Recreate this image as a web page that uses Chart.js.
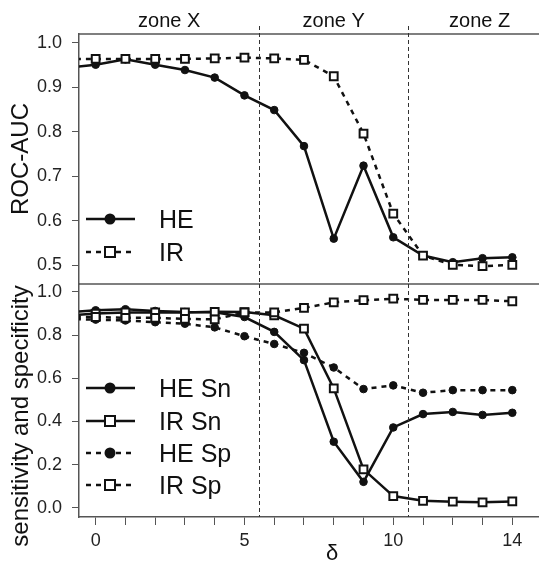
<!DOCTYPE html>
<html>
<head>
<meta charset="utf-8">
<script src="https://cdn.jsdelivr.net/npm/chart.js@4"></script>
<style>
  html, body { margin: 0; padding: 0; background: #fff; overflow: hidden; }
  #wrap { position: relative; width: 539px; height: 562px; overflow: hidden; }
  canvas { position: absolute; left: 0; top: 0; }
</style>
</head>
<body>
<div id="wrap">
  <canvas id="aucChart" width="560" height="562"></canvas>
  <canvas id="snspChart" width="560" height="562"></canvas>
</div>
<script>
// δ values (the -1 point sits just outside the left edge, lines run into the border)
const deltas = [-1, 0, 1, 2, 3, 4, 5, 6, 7, 8, 9, 10, 11, 12, 13, 14];

// top panel: ROC-AUC
const heAuc = [0.944, 0.951, 0.963, 0.951, 0.939, 0.922, 0.882, 0.849, 0.768, 0.560, 0.724, 0.563, 0.522, 0.507, 0.516, 0.518];
const irAuc = [0.964, 0.964, 0.964, 0.964, 0.964, 0.965, 0.967, 0.965, 0.962, 0.925, 0.796, 0.616, 0.522, 0.501, 0.498, 0.501];

// bottom panel: sensitivity / specificity
const heSn = [0.905, 0.915, 0.920, 0.912, 0.907, 0.906, 0.884, 0.815, 0.684, 0.306, 0.120, 0.372, 0.434, 0.444, 0.430, 0.440];
const irSn = [0.890, 0.900, 0.905, 0.905, 0.905, 0.908, 0.907, 0.892, 0.830, 0.553, 0.178, 0.054, 0.032, 0.028, 0.025, 0.029];
const heSp = [0.875, 0.872, 0.868, 0.860, 0.853, 0.836, 0.795, 0.759, 0.718, 0.650, 0.550, 0.567, 0.533, 0.545, 0.545, 0.545];
const irSp = [0.885, 0.884, 0.880, 0.880, 0.875, 0.873, 0.905, 0.905, 0.926, 0.952, 0.962, 0.969, 0.963, 0.963, 0.963, 0.957];

const aucTicks = [0.5, 0.6, 0.7, 0.8, 0.9, 1.0];
const snspTicks = [0.0, 0.2, 0.4, 0.6, 0.8, 1.0];
const deltaTicks = [0, 1, 2, 3, 4, 5, 6, 7, 8, 9, 10, 11, 12, 13, 14];
const deltaLabels = [0, 5, 10, 14];

const zoneNames = ['zone X', 'zone Y', 'zone Z'];
const zoneCenters = [2.47, 8, 12.9];
const zoneBounds = [5.5, 10.5];

const FONT = '"Liberation Sans", Arial, Helvetica, sans-serif';
const INK = '#111';
const FRAME = '#555';

const toPts = ys => deltas.map((x, i) => ({ x, y: ys[i] }));

function series(label, ys, solid, marker) {
    const square = marker === 'square';
    return {
        label,
        data: toPts(ys),
        borderColor: INK,
        borderWidth: 2.5,
        borderDash: solid ? [] : [5, 5],
        pointStyle: square ? 'rect' : 'circle',
        pointRadius: square ? 5.5 : 3.8,
        pointBorderWidth: square ? 2 : 1,
        pointBackgroundColor: square ? '#fff' : INK,
        pointBorderColor: INK,
        tension: 0
    };
}

function xScale(show) {
    const scale = {
        type: 'linear',
        min: -0.56,
        max: 15.3,
        display: show,
        afterBuildTicks: s => { s.ticks = deltaTicks.map(v => ({ value: v })); },
        ticks: {
            autoSkip: false,
            maxRotation: 0,
            padding: 5,
            color: '#222',
            font: { family: FONT, size: 18 },
            callback: v => deltaLabels.includes(v) ? String(v) : ''
        },
        grid: { drawOnChartArea: false, tickLength: 8, color: FRAME, lineWidth: 1 },
        border: { color: FRAME, width: 1.5 }
    };
    if (show) scale.afterFit = s => { s.height = 45; };
    return scale;
}

function yScale(min, max, tickList) {
    return {
        min, max,
        afterBuildTicks: s => { s.ticks = tickList.map(v => ({ value: v })); },
        afterFit: s => { s.width = 79; },
        ticks: {
            padding: 10,
            color: '#222',
            font: { family: FONT, size: 18 },
            callback: v => Number(v).toFixed(1)
        },
        grid: { drawOnChartArea: false, tickLength: 7, color: FRAME, lineWidth: 1 },
        border: { color: FRAME, width: 1.5 }
    };
}

function drawLegend(ctx, rows) {
    ctx.save();
    rows.forEach(r => {
        ctx.strokeStyle = INK;
        ctx.lineWidth = 2.5;
        ctx.setLineDash(r.solid ? [] : [5, 5]);
        ctx.beginPath();
        ctx.moveTo(86, r.y);
        ctx.lineTo(135, r.y);
        ctx.stroke();
        ctx.setLineDash([]);
        if (r.marker === 'square') {
            ctx.fillStyle = '#fff';
            ctx.lineWidth = 2;
            ctx.fillRect(105, r.y - 5, 10, 10);
            ctx.strokeRect(105, r.y - 5, 10, 10);
        } else {
            ctx.fillStyle = INK;
            ctx.beginPath();
            ctx.arc(110, r.y, 5.5, 0, Math.PI * 2);
            ctx.fill();
        }
        ctx.fillStyle = INK;
        ctx.font = `25px ${FONT}`;
        ctx.textAlign = 'left';
        ctx.textBaseline = 'alphabetic';
        ctx.fillText(r.label, 159, r.y + 9);
    });
    ctx.restore();
}

function drawZoneLines(chart, yTop, yBottom) {
    const ctx = chart.ctx;
    const xs = chart.scales.x;
    ctx.save();
    ctx.strokeStyle = '#333';
    ctx.lineWidth = 1;
    ctx.setLineDash([4, 3]);
    zoneBounds.forEach(b => {
        const px = Math.round(xs.getPixelForValue(b)) + 0.5;
        ctx.beginPath();
        ctx.moveTo(px, yTop);
        ctx.lineTo(px, yBottom);
        ctx.stroke();
    });
    ctx.restore();
}

function drawYTitle(ctx, text, x, y) {
    ctx.save();
    ctx.translate(x, y);
    ctx.rotate(-Math.PI / 2);
    ctx.fillStyle = INK;
    ctx.font = `24px ${FONT}`;
    ctx.textAlign = 'center';
    ctx.textBaseline = 'alphabetic';
    ctx.fillText(text, 0, 0);
    ctx.restore();
}

const aucDecor = {
    id: 'aucDecor',
    afterDatasetsDraw(chart) {
        const { ctx, chartArea } = chart;
        ctx.save();
        ctx.strokeStyle = FRAME;
        ctx.lineWidth = 1.5;
        ctx.beginPath();
        ctx.moveTo(chartArea.left, chartArea.top);
        ctx.lineTo(chartArea.right, chartArea.top);
        ctx.stroke();
        ctx.fillStyle = INK;
        ctx.font = `20px ${FONT}`;
        ctx.textAlign = 'center';
        ctx.textBaseline = 'alphabetic';
        zoneNames.forEach((z, i) => {
            ctx.fillText(z, chart.scales.x.getPixelForValue(zoneCenters[i]), 27);
        });
        ctx.restore();
        drawZoneLines(chart, 26, chartArea.bottom);
        drawYTitle(ctx, 'ROC-AUC', 28, (chartArea.top + chartArea.bottom) / 2);
        drawLegend(ctx, [
            { label: 'HE', y: 219, solid: true, marker: 'circle' },
            { label: 'IR', y: 252, solid: false, marker: 'square' }
        ]);
    }
};

const snspDecor = {
    id: 'snspDecor',
    afterDatasetsDraw(chart) {
        const { ctx, chartArea } = chart;
        ctx.save();
        ctx.strokeStyle = FRAME;
        ctx.lineWidth = 1.5;
        ctx.beginPath();
        ctx.moveTo(chartArea.left, chartArea.top);
        ctx.lineTo(chartArea.right, chartArea.top);
        ctx.stroke();
        ctx.fillStyle = INK;
        ctx.font = `22px ${FONT}`;
        ctx.textAlign = 'center';
        ctx.textBaseline = 'alphabetic';
        ctx.fillText('δ', 332, 560);
        ctx.restore();
        drawZoneLines(chart, chartArea.top, chartArea.bottom);
        drawYTitle(ctx, 'sensitivity and specificity', 28, 416);
        drawLegend(ctx, [
            { label: 'HE Sn', y: 388, solid: true, marker: 'circle' },
            { label: 'IR Sn', y: 421, solid: true, marker: 'square' },
            { label: 'HE Sp', y: 453, solid: false, marker: 'circle' },
            { label: 'IR Sp', y: 485, solid: false, marker: 'square' }
        ]);
    }
};

const common = {
    responsive: false,
    animation: false,
    events: [],
    plugins: { legend: { display: false }, tooltip: { enabled: false } }
};

new Chart(document.getElementById('aucChart').getContext('2d'), {
    type: 'line',
    data: {
        datasets: [
            series('IR', irAuc, false, 'square'),
            series('HE', heAuc, true, 'circle')
        ]
    },
    options: {
        ...common,
        layout: { padding: { top: 34, bottom: 278, left: 0, right: 9 } },
        scales: { x: xScale(false), y: yScale(0.458, 1.02, aucTicks) }
    },
    plugins: [aucDecor]
});

new Chart(document.getElementById('snspChart').getContext('2d'), {
    type: 'line',
    data: {
        datasets: [
            series('IR Sp', irSp, false, 'square'),
            series('HE Sp', heSp, false, 'circle'),
            series('IR Sn', irSn, true, 'square'),
            series('HE Sn', heSn, true, 'circle')
        ]
    },
    options: {
        ...common,
        layout: { padding: { top: 284, bottom: 0, left: 0, right: 9 } },
        scales: { x: xScale(true), y: yScale(-0.043, 1.037, snspTicks) }
    },
    plugins: [snspDecor]
});
</script>
</body>
</html>
